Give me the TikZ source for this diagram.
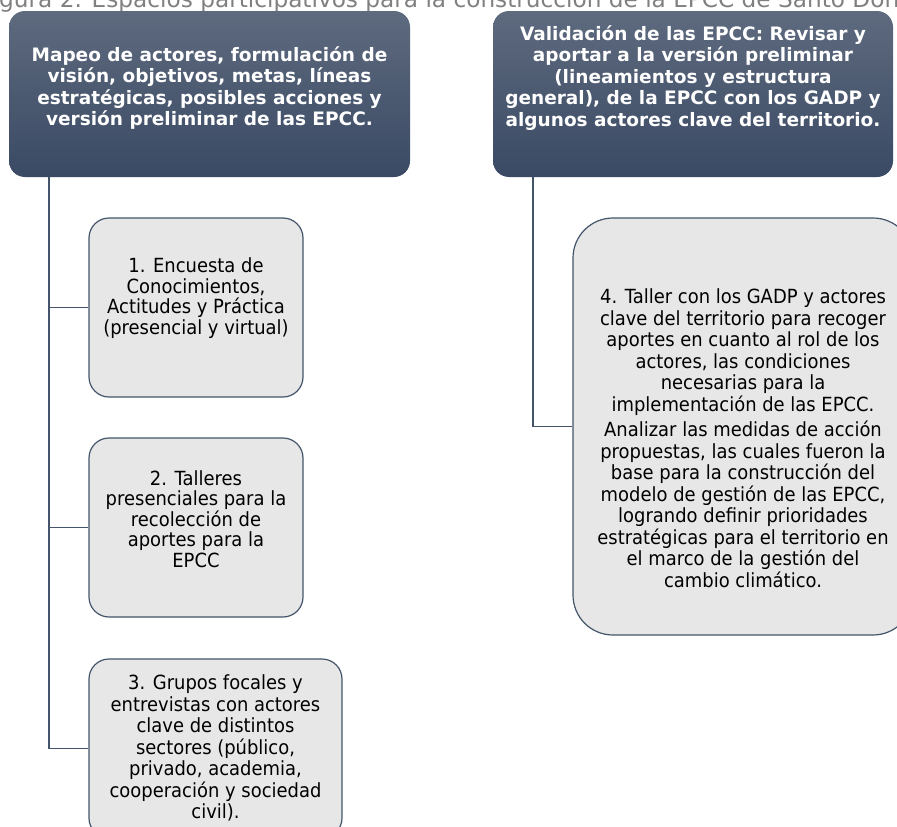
\documentclass[tikz,border=0pt]{standalone}
\usepackage{fontspec}
\setmainfont{DejaVu Sans}
\newfontfamily\bodyfont{DejaVu Sans}[FakeStretch=0.92]
\definecolor{hdrtop}{RGB}{94,106,126}
\definecolor{hdrbot}{RGB}{58,74,100}
\definecolor{linec}{RGB}{68,84,106}
\definecolor{childfill}{RGB}{231,231,231}
\definecolor{titlec}{RGB}{128,128,128}
\begin{document}
\begin{tikzpicture}[x=1pt,y=-1pt,
  hdrbox/.style={rounded corners=16pt, top color=hdrtop, bottom color=hdrbot, draw=none, inner sep=0pt},
  hdrtext/.style={text=white, font=\bfseries\fontsize{18.5}{21.5}\selectfont, align=center, inner sep=0pt},
  childbox/.style={draw=linec, line width=1.2pt, fill=childfill, rounded corners=20pt, inner sep=0pt},
  childtext/.style={text=black, font=\bodyfont\fontsize{19.5}{21.5}\selectfont, align=center, inner sep=0pt},
  tighttext/.style={childtext, font=\bodyfont\fontsize{19.5}{20.5}\selectfont},
  conn/.style={draw=linec, line width=1.4pt}]
\useasboundingbox (0,0) rectangle (897,827);
\clip (0,0) rectangle (897,827);
% title (partially cut at the top, as in the reference)
\node[anchor=base west, inner sep=0pt, text=titlec, font=\fontsize{23.2}{26}\selectfont] (title) at (-1,7) {gura 2. Espacios participativos para la construcción de la EPCC de Santo Don};
% headers
\node[hdrbox, minimum width=401pt, minimum height=166pt] (h1) at (209.5,94) {};
\node[hdrbox, minimum width=400pt, minimum height=166pt] (h2) at (693,94) {};
\node[hdrtext] (th1) at (209.5,88) {Mapeo de actores, formulación de\\visión, objetivos, metas, líneas\\estratégicas, posibles acciones y\\versión preliminar de las EPCC.};
\node[hdrtext] (th2) at (693,78) {Validación de las EPCC: Revisar y\\aportar a la versión preliminar\\(lineamientos y estructura\\general), de la EPCC con los GADP y\\algunos actores clave del territorio.};
% children
\node[childbox, minimum width=214pt, minimum height=179pt] (c1) at (196,307.5) {};
\node[childbox, minimum width=214pt, minimum height=179pt] (c2) at (196,527.5) {};
\node[childbox, minimum width=253pt, minimum height=179pt] (c3) at (215.5,748.5) {};
\node[childbox, rounded corners=40pt, minimum width=340pt, minimum height=417pt] (c4) at (743,426.5) {};
\node[tighttext] (t1) at (196,298) {1. Encuesta de\\Conocimientos,\\Actitudes y Práctica\\(presencial y virtual)};
\node[tighttext] (t2) at (196,519) {2. Talleres\\presenciales para la\\recolección de\\aportes para la\\EPCC};
\node[childtext] (t3) at (215.5,748) {3. Grupos focales y\\entrevistas con actores\\clave de distintos\\sectores (público,\\privado, academia,\\cooperación y sociedad\\civil).};
\node[childtext] (t4) at (743,438) {4. Taller con los GADP y actores\\clave del territorio para recoger\\aportes en cuanto al rol de los\\actores, las condiciones\\necesarias para la\\implementación de las EPCC.\\[4pt]Analizar las medidas de acción\\propuestas, las cuales fueron la\\base para la construcción del\\modelo de gestión de las EPCC,\\logrando definir prioridades\\estratégicas para el territorio en\\el marco de la gestión del\\cambio climático.};
% connectors
\draw[conn] ([xshift=40pt]h1.south west) |- (c1.west);
\draw[conn] ([xshift=40pt]h1.south west) |- (c2.west);
\draw[conn] ([xshift=40pt]h1.south west) |- (c3.west);
\draw[conn] ([xshift=40pt]h2.south west) |- (c4.west);
\end{tikzpicture}
\end{document}
